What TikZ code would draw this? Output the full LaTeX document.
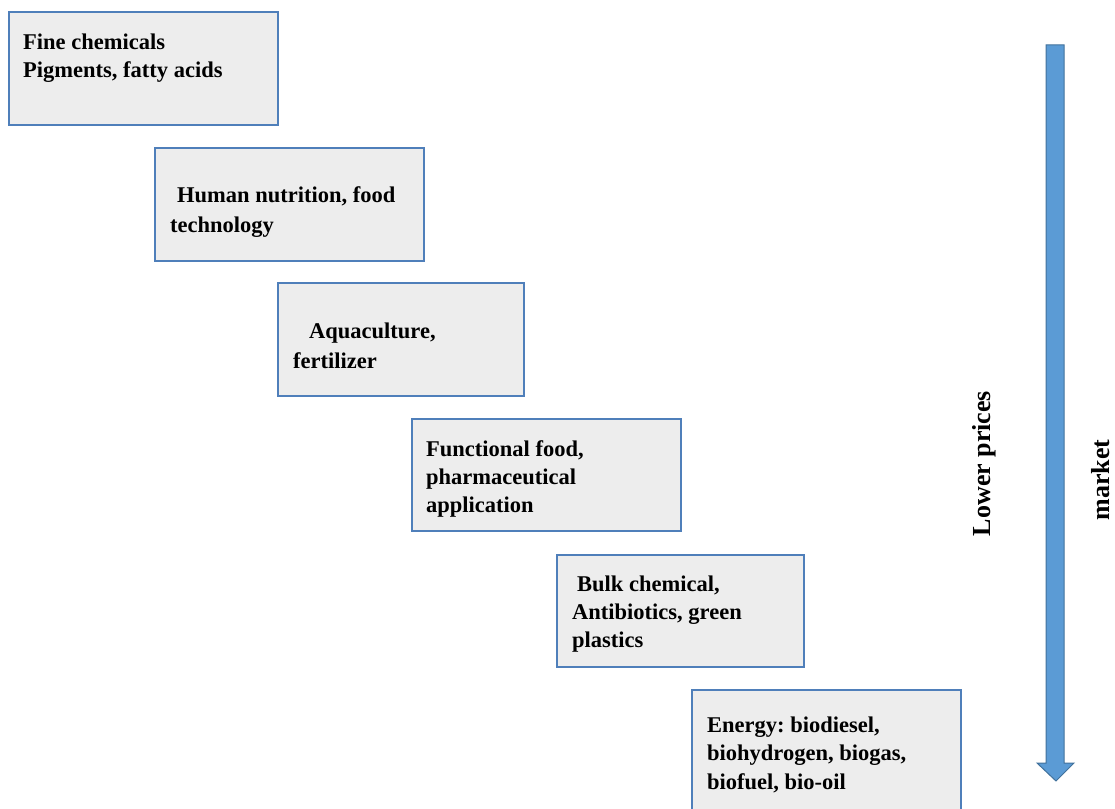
\documentclass[tikz,border=0pt]{standalone}
\usepackage{fontspec}
\setmainfont{Liberation Serif}
\frenchspacing
\begin{document}
\begin{tikzpicture}[x=1pt,y=-1pt,
  boxstyle/.style={draw=boxblue, fill=boxgray, line width=1.4pt},
  txt/.style={anchor=north west, inner sep=0pt, align=left,
    font=\fontsize{22.5}{28}\selectfont\bfseries},
  sidetxt/.style={rotate=90, anchor=base, inner sep=0pt,
    font=\fontsize{26}{30}\selectfont\bfseries}]
\definecolor{boxblue}{HTML}{4F7FBA}
\definecolor{boxgray}{HTML}{EDEDED}
\definecolor{arrfill}{HTML}{5B9BD5}
\definecolor{arrline}{HTML}{41719C}
\useasboundingbox (0,0) rectangle (1115,808);
\clip (0,0) rectangle (1115,808);
% boxes
\path[boxstyle] (9,12) rectangle (278,125) coordinate (b1);
\path[boxstyle] (155,148) rectangle (424,261) coordinate (b2);
\path[boxstyle] (278,283) rectangle (524,396) coordinate (b3);
\path[boxstyle] (412,419) rectangle (681,531) coordinate (b4);
\path[boxstyle] (557,555) rectangle (804,667) coordinate (b5);
\path[boxstyle] (692,690) rectangle (961,820) coordinate (b6);
% texts (positioned by first baseline minus strut height 19.6)
\node[txt] (t1) at (23,29.4) {\strut Fine chemicals\\Pigments, fatty acids};
\node[txt] (t2) at (170,182.4) {\strut\hspace{7pt}Human nutrition, food\\[2pt]technology};
\node[txt] (t3) at (293,318.4) {\strut\hspace{16pt}Aquaculture,\\[2pt]fertilizer};
\node[txt] (t4) at (426,436.4) {\strut Functional food,\\pharmaceutical\\application};
\node[txt] (t5) at (572,571.4) {\strut\hspace{5pt}Bulk chemical,\\Antibiotics, green\\plastics};
\node[txt] (t6) at (707,712.4) {\strut Energy: biodiesel,\\biohydrogen, biogas,\\[1pt]biofuel, bio-oil};
% big arrow
\draw[fill=arrfill, draw=arrline, line width=1pt, line join=miter]
  (1046,45) -- (1064,45) -- (1064,763) -- (1074,763) -- (1056,781)
  -- (1037,763) -- (1046,763) -- cycle;
% side labels
\node[sidetxt] (lp) at (990,463.5) {Lower prices};
\node[sidetxt] (mk) at (1109,480) {market};
\end{tikzpicture}
\end{document}
